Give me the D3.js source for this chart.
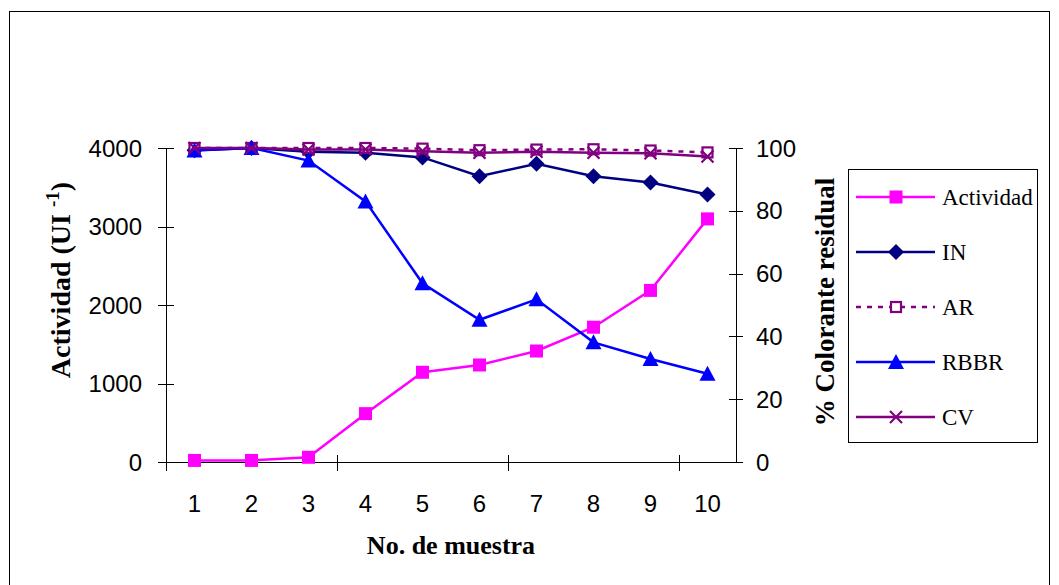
<!DOCTYPE html>
<html>
<head>
	<meta charset="UTF-8">
	<title>Actividad y colorante residual</title>
	<script src="https://cdn.jsdelivr.net/npm/d3@7"></script>
	<style>
		html, body {
			margin: 0;
			padding: 0;
			background: #fff;
		}
		svg {
			display: block;
		}
		.tick-label {
			font-family: "Liberation Sans", Arial, sans-serif;
			font-size: 24px;
			fill: #000;
		}
		.axis-title {
			font-family: "Liberation Serif", "Times New Roman", serif;
			font-size: 26px;
			font-weight: bold;
			fill: #000;
		}
		.legend-label {
			font-family: "Liberation Serif", "Times New Roman", serif;
			font-size: 23px;
			fill: #000;
		}
	</style>
</head>
<body>
	<div id="chart"></div>
	<script>
		// data
		var muestras = [1, 2, 3, 4, 5, 6, 7, 8, 9, 10];
		var actividad = [20, 20, 60, 616, 1143, 1236, 1414, 1717, 2186, 3097];
		var IN = [99.3, 100, 98.8, 98.5, 97, 91, 95, 91, 89, 85.2];
		var AR = [100, 100, 100, 100, 99.8, 99.3, 99.5, 99.6, 99.2, 98.6];
		var RBBR = [99.2, 100, 96, 83, 56.9, 45.3, 51.8, 38.1, 32.8, 28.1];
		var CV = [100, 100, 99.5, 99.5, 99, 98.5, 98.8, 98.5, 98.3, 97.3];
		var leftTicks = [0, 1000, 2000, 3000, 4000];
		var rightTicks = [0, 20, 40, 60, 80, 100];

		var W = 1059, H = 585;
		var plot = { left: 166, right: 736, top: 148, bottom: 462 };

		var svg = d3.select("#chart").append("svg")
			.attr("width", W)
			.attr("height", H);

		// outer chart border
		svg.append("rect")
			.attr("x", 9.5)
			.attr("y", 11.5)
			.attr("width", 1040)
			.attr("height", 600)
			.attr("fill", "none")
			.attr("stroke", "#000")
			.attr("stroke-width", 1);

		var x = d3.scaleBand()
			.domain(muestras)
			.range([plot.left, plot.right]);
		var yL = d3.scaleLinear().domain([0, 4000]).range([plot.bottom, plot.top]);
		var yR = d3.scaleLinear().domain([0, 100]).range([plot.bottom, plot.top]);

		function cx(d, i) { return x(muestras[i]) + x.bandwidth() / 2; }

		// axes (Excel style cross ticks)
		var ax = svg.append("g").attr("stroke", "#000").attr("stroke-width", 1);
		ax.append("line")
			.attr("x1", plot.left + 0.5).attr("x2", plot.left + 0.5)
			.attr("y1", plot.top).attr("y2", plot.bottom);
		ax.append("line")
			.attr("x1", plot.right + 0.5).attr("x2", plot.right + 0.5)
			.attr("y1", plot.top).attr("y2", plot.bottom);
		ax.append("line")
			.attr("x1", plot.left).attr("x2", plot.right)
			.attr("y1", plot.bottom + 0.5).attr("y2", plot.bottom + 0.5);

		ax.selectAll(".tl").data(leftTicks).enter().append("line")
			.attr("x1", plot.left - 8).attr("x2", plot.left + 8)
			.attr("y1", function(d) { return Math.round(yL(d)) + 0.5; })
			.attr("y2", function(d) { return Math.round(yL(d)) + 0.5; });
		ax.selectAll(".tr").data(rightTicks).enter().append("line")
			.attr("x1", plot.right - 7).attr("x2", plot.right + 7)
			.attr("y1", function(d) { return Math.round(yR(d)) + 0.5; })
			.attr("y2", function(d) { return Math.round(yR(d)) + 0.5; });

		// category ticks every 3 samples
		var xTickPos = [0, 3, 6, 9].map(function(k) { return plot.left + k * x.step(); });
		ax.selectAll(".tx").data(xTickPos).enter().append("line")
			.attr("x1", function(d) { return Math.round(d) + 0.5; })
			.attr("x2", function(d) { return Math.round(d) + 0.5; })
			.attr("y1", plot.bottom - 7).attr("y2", plot.bottom + 9);

		svg.selectAll(".yl").data(leftTicks).enter().append("text")
			.attr("class", "tick-label")
			.attr("x", plot.left - 24)
			.attr("y", function(d) { return yL(d); })
			.attr("dy", "0.36em")
			.attr("text-anchor", "end")
			.text(function(d) { return d; });
		svg.selectAll(".yr").data(rightTicks).enter().append("text")
			.attr("class", "tick-label")
			.attr("x", plot.right + 20)
			.attr("y", function(d) { return yR(d); })
			.attr("dy", "0.36em")
			.text(function(d) { return d; });
		svg.selectAll(".xl").data(muestras).enter().append("text")
			.attr("class", "tick-label")
			.attr("x", function(d) { return x(d) + x.bandwidth() / 2; })
			.attr("y", 512)
			.attr("text-anchor", "middle")
			.text(function(d) { return d; });

		// axis titles
		svg.append("text")
			.attr("class", "axis-title")
			.attr("x", (plot.left + plot.right) / 2)
			.attr("y", 554)
			.attr("text-anchor", "middle")
			.text("No. de muestra");

		var tL = svg.append("text")
			.attr("class", "axis-title")
			.style("font-size", "28px")
			.attr("transform", "translate(70," + 280 + ") rotate(-90)")
			.attr("text-anchor", "middle");
		tL.append("tspan").text("Actividad (UI ");
		tL.append("tspan").style("font-size", "19px").attr("dy", -11).text("-1");
		tL.append("tspan").attr("dy", 11).text(")");

		svg.append("text")
			.attr("class", "axis-title")
			.style("font-size", "27px")
			.attr("transform", "translate(834," + 302 + ") rotate(-90)")
			.attr("text-anchor", "middle")
			.text("% Colorante residual");

		// series
		var series = [
			{ name: "Actividad", values: actividad, y: yL, color: "#ff00ff", dash: null, marker: "square" },
			{ name: "IN", values: IN, y: yR, color: "#000080", dash: null, marker: "diamond" },
			{ name: "AR", values: AR, y: yR, color: "#800080", dash: "5,6", marker: "open" },
			{ name: "RBBR", values: RBBR, y: yR, color: "#0000ff", dash: null, marker: "triangle" },
			{ name: "CV", values: CV, y: yR, color: "#800080", dash: null, marker: "cross" }
		];

		function drawMarker(g, type, color) {
			if (type === "square") {
				g.append("rect").attr("x", -6.5).attr("y", -6.5).attr("width", 13).attr("height", 13)
					.attr("fill", color);
			} else if (type === "diamond") {
				g.append("path").attr("d", "M0,-8L8,0L0,8L-8,0Z").attr("fill", color);
			} else if (type === "open") {
				g.append("rect").attr("x", -5).attr("y", -5).attr("width", 10).attr("height", 10)
					.attr("fill", "#fff").attr("stroke", color).attr("stroke-width", 2.2);
			} else if (type === "triangle") {
				g.append("path").attr("d", "M0,-8L8,7L-8,7Z").attr("fill", color);
			} else if (type === "cross") {
				g.append("path").attr("d", "M-6,-6L6,6M-6,6L6,-6")
					.attr("stroke", color).attr("stroke-width", 2.2).attr("fill", "none");
			}
		}

		series.forEach(function(s) {
			var line = d3.line()
				.x(function(d, i) { return cx(d, i); })
				.y(function(d) { return s.y(d); });
			svg.append("path")
				.datum(s.values)
				.attr("d", line)
				.attr("fill", "none")
				.attr("stroke", s.color)
				.attr("stroke-width", 2.5)
				.attr("stroke-dasharray", s.dash);
			s.values.forEach(function(v, i) {
				var g = svg.append("g")
					.attr("transform", "translate(" + cx(v, i) + "," + s.y(v) + ")");
				drawMarker(g, s.marker, s.color);
			});
		});

		// legend
		var lg = svg.append("g");
		lg.append("rect")
			.attr("x", 848.5).attr("y", 169.5)
			.attr("width", 189).attr("height", 273)
			.attr("fill", "#fff").attr("stroke", "#000").attr("stroke-width", 1);
		var legY = d3.scalePoint().domain(series.map(function(s) { return s.name; })).range([197, 417]);
		series.forEach(function(s) {
			var yy = legY(s.name);
			lg.append("line")
				.attr("x1", 856).attr("x2", 935)
				.attr("y1", yy).attr("y2", yy)
				.attr("stroke", s.color).attr("stroke-width", 2.5)
				.attr("stroke-dasharray", s.dash);
			var g = lg.append("g").attr("transform", "translate(896," + yy + ")");
			drawMarker(g, s.marker, s.color);
			lg.append("text")
				.attr("class", "legend-label")
				.attr("x", 942)
				.attr("y", yy)
				.attr("dy", "0.33em")
				.text(s.name);
		});
	</script>
</body>
</html>
